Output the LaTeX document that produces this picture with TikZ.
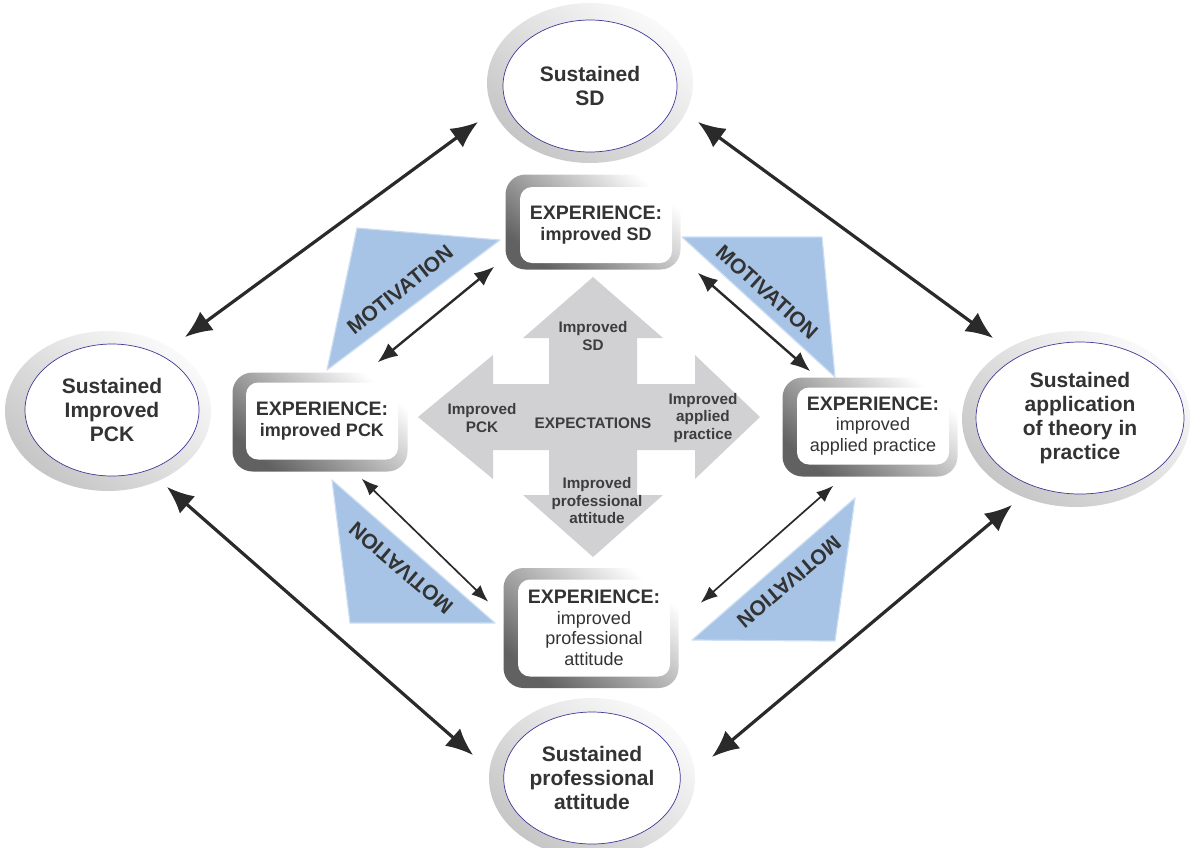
\documentclass[tikz,border=0pt]{standalone}
\usepackage{fontspec}
\setmainfont{Liberation Sans}
\usetikzlibrary{shapes.geometric,arrows.meta}
\definecolor{ink}{HTML}{333333}
\definecolor{arrowink}{HTML}{2A2A2A}
\definecolor{crossgray}{RGB}{209,209,211}
\definecolor{motblue}{RGB}{167,196,230}
\definecolor{motedge}{RGB}{205,222,242}
\definecolor{ringblue}{RGB}{62,58,150}
\begin{document}
\begin{tikzpicture}[x=1pt,y=-1pt,line join=round,
    sustring/.style={ellipse,inner sep=0pt,minimum width=206pt,minimum height=160pt,
        top color=gray!4,bottom color=gray!45,shading angle=-40},
    sustcore/.style={ellipse,inner sep=0pt,minimum width=174pt,minimum height=132pt,
        fill=white,draw=ringblue,line width=0.7pt,align=center,text=ink,
        font=\bfseries\fontsize{21}{24}\selectfont},
    expframe/.style={rectangle,rounded corners=20pt,minimum width=175pt,
        top color=white,bottom color=black!62,shading angle=-40},
    exppane/.style={rectangle,rounded corners=12pt,minimum width=152pt,fill=white,
        align=center,text=ink,font=\fontsize{18}{20.5}\selectfont},
    crosslabel/.style={align=center,text=ink!95,font=\bfseries\fontsize{15.3}{17.5}\selectfont},
    motlabel/.style={text=ink,font=\bfseries\fontsize{21}{21}\selectfont},
    motwedge/.style={fill=motblue,draw=motedge,line width=1.2pt},
    bigarrow/.style={<->,>={Latex[length=27pt,width=23pt]},line width=3.2pt,draw=arrowink},
    midarrow/.style={<->,>={Latex[length=20pt,width=16pt]},line width=2.4pt,draw=arrowink},
    thinarrow/.style={<->,>={Latex[length=17pt,width=13pt]},line width=1.7pt,draw=arrowink}]
\useasboundingbox (0,0) rectangle (1190,847);

% outer goals
\node[sustring] (sd) at (590,83) {};
\node[sustcore] (sdtxt) at (590,86) {Sustained\\SD};
\node[sustring] (pck) at (108,411) {};
\node[sustcore] (pcktxt) at (112,410) {Sustained\\Improved\\PCK};
\node[sustring,minimum width=228pt,minimum height=176pt] (app) at (1076,419) {};
\node[sustcore,minimum width=208pt,minimum height=152pt] (apptxt) at (1080,418)
    {Sustained\\application\\of theory in\\practice};
\node[sustring] (att) at (592,778) {};
\node[sustcore] (atttxt) at (592,778) {Sustained\\professional\\attitude};

% motivation wedges
\filldraw[motwedge] (357,228) -- (500,240) -- (327,370) -- cycle;
\filldraw[motwedge] (682,237) -- (822,237) -- (835,377) -- cycle;
\filldraw[motwedge] (332,480) -- (350,623) -- (495,623) -- cycle;
\filldraw[motwedge] (855,498) -- (835,641) -- (692,640) -- cycle;
\node[motlabel,rotate=38.7] (m1) at (400,290) {MOTIVATION};
\node[motlabel,rotate=-42] (m2) at (767,292) {MOTIVATION};
\node[motlabel,rotate=139.5] (m3) at (401,568) {MOTIVATION};
\node[motlabel,rotate=-139.7] (m4) at (789,582) {MOTIVATION};

% expectations cross
\fill[crossgray] (593,277) -- (663,338) -- (637,338) -- (637,384) -- (695,384) -- (695,355)
    -- (760,417) -- (695,479) -- (695,450) -- (637,450) -- (637,495) -- (663,495)
    -- (593,557) -- (523,495) -- (549,495) -- (549,450) -- (493,450) -- (493,479)
    -- (418,417) -- (493,355) -- (493,384) -- (549,384) -- (549,338) -- (523,338) -- cycle;
\node[crosslabel] (xsd) at (593,336) {Improved\\SD};
\node[crosslabel] (xpck) at (482,418) {Improved\\PCK};
\node[crosslabel] (xexp) at (593,423) {EXPECTATIONS};
\node[crosslabel] (xapp) at (703,418) {Improved\\applied\\practice};
\node[crosslabel] (xatt) at (597,501) {Improved\\professional\\attitude};

% experience boxes
\node[expframe,minimum height=95pt] (tbox) at (593,222) {};
\node[exppane,minimum height=76pt] (tpane) at (596,225)
    {{\fontsize{19.5}{20.5}\selectfont\bfseries EXPERIENCE:}\\\textbf{improved SD}};
\node[expframe,minimum height=99pt] (lbox) at (320,422) {};
\node[exppane,minimum height=77pt] (lpane) at (322,421)
    {{\fontsize{19.5}{20.5}\selectfont\bfseries EXPERIENCE:}\\\textbf{improved PCK}};
\node[expframe,minimum height=99pt] (rbox) at (870,427) {};
\node[exppane,minimum height=77pt] (rpane) at (873,426)
    {{\fontsize{19.5}{20.5}\selectfont\bfseries EXPERIENCE:}\\improved\\applied practice};
\node[expframe,minimum height=120pt] (bbox) at (591,628) {};
\node[exppane,minimum height=97pt] (bpane) at (594,628)
    {{\fontsize{19.5}{20.5}\selectfont\bfseries EXPERIENCE:}\\improved\\professional\\attitude};

% box to box
\draw[midarrow] ([shift={(-30,-10)}]lbox.north east) -- ([shift={(-11,-3)}]tbox.south west);
\draw[midarrow] ([shift={(17,3)}]tbox.south east) -- ([shift={(28,-6)}]rbox.north west);
\draw[thinarrow] ([shift={(-46,7)}]lbox.south east) -- ([shift={(-15,34)}]bbox.north west);
\draw[thinarrow] ([shift={(51,9)}]rbox.south west) -- ([shift={(22,35)}]bbox.north east);

% goal to goal
\draw[bigarrow] ([shift={(77,-74)}]pck.center) -- ([shift={(-112,39)}]sd.center);
\draw[bigarrow] ([shift={(108,39)}]sd.center) -- ([shift={(-83,-81)}]app.center);
\draw[bigarrow] ([shift={(59,76)}]pck.center) -- ([shift={(-119,-23)}]att.center);
\draw[bigarrow] ([shift={(-64,86)}]app.center) -- ([shift={(120,-21)}]att.center);
\end{tikzpicture}
\end{document}
